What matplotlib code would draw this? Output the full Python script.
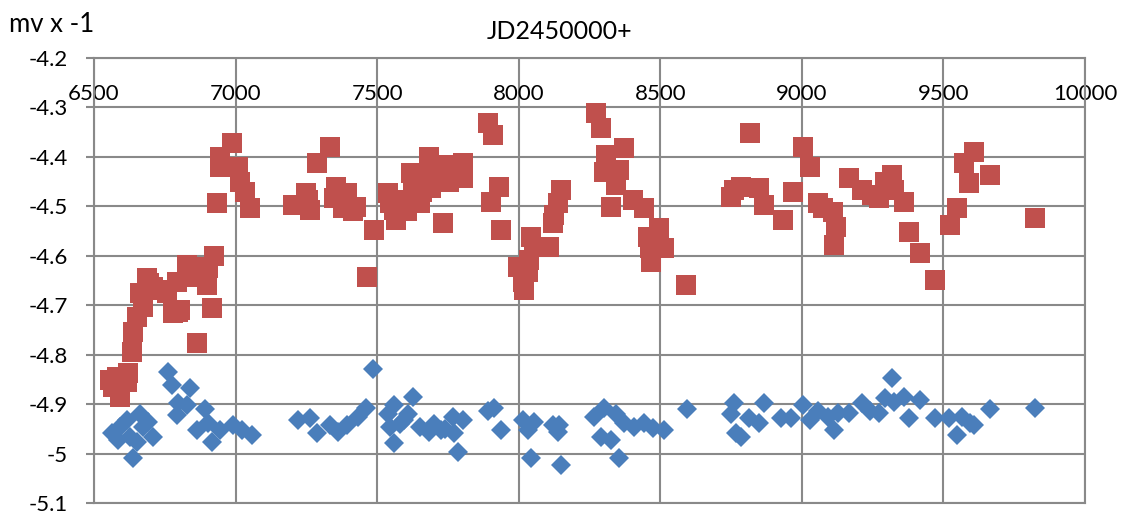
import numpy as np
import matplotlib.pyplot as plt
from matplotlib.ticker import FuncFormatter, MultipleLocator

# Light curve: visual magnitude (sign flipped) against JD - 2450000

# upper series (red squares)
red_jd = [6557, 6567, 6581, 6592, 6617, 6620, 6634, 6638, 6652, 6663,
          6673, 6688, 6695, 6709, 6730, 6758, 6780, 6794, 6797, 6804,
          6829, 6840, 6864, 6864, 6882, 6900, 6903, 6917, 6925, 6935,
          6946, 6946, 6988, 7010, 7017, 7034, 7052, 7204, 7247, 7257,
          7264, 7289, 7335, 7346, 7353, 7381, 7395, 7415, 7424, 7465,
          7490, 7537, 7547, 7558, 7565, 7583, 7605, 7615, 7618, 7625,
          7643, 7653, 7660, 7682, 7682, 7689, 7714, 7731, 7749, 7753,
          7770, 7802, 7802, 7891, 7901, 7908, 7930, 7937, 7997, 8015,
          8018, 8032, 8036, 8043, 8053, 8107, 8121, 8124, 8138, 8149,
          8273, 8290, 8301, 8308, 8326, 8344, 8354, 8372, 8404, 8443,
          8457, 8462, 8467, 8496, 8514, 8591, 8751, 8761, 8786, 8818,
          8850, 8867, 8934, 8970, 9005, 9027, 9058, 9076, 9111, 9115,
          9122, 9165, 9211, 9246, 9274, 9292, 9317, 9327, 9359, 9377,
          9416, 9469, 9522, 9547, 9571, 9589, 9607, 9663, 9823]
red_mag = [-4.852, -4.866, -4.846, -4.886, -4.856, -4.838, -4.795, -4.755, -4.724, -4.676,
           -4.704, -4.645, -4.655, -4.664, -4.670, -4.676, -4.716, -4.653, -4.714, -4.710,
           -4.619, -4.643, -4.635, -4.777, -4.623, -4.660, -4.625, -4.706, -4.600, -4.494,
           -4.400, -4.420, -4.372, -4.420, -4.451, -4.471, -4.504, -4.498, -4.473, -4.487,
           -4.508, -4.413, -4.380, -4.483, -4.461, -4.504, -4.473, -4.510, -4.502, -4.642,
           -4.548, -4.473, -4.494, -4.508, -4.528, -4.487, -4.510, -4.490, -4.433, -4.447,
           -4.453, -4.494, -4.470, -4.400, -4.420, -4.463, -4.443, -4.534, -4.417, -4.451,
           -4.440, -4.413, -4.443, -4.332, -4.491, -4.356, -4.461, -4.548, -4.623, -4.654,
           -4.670, -4.633, -4.609, -4.562, -4.583, -4.583, -4.534, -4.518, -4.494, -4.467,
           -4.312, -4.342, -4.431, -4.396, -4.502, -4.457, -4.427, -4.382, -4.487, -4.504,
           -4.562, -4.585, -4.613, -4.544, -4.585, -4.660, -4.481, -4.467, -4.461, -4.352,
           -4.463, -4.498, -4.528, -4.471, -4.380, -4.420, -4.494, -4.504, -4.512, -4.579,
           -4.542, -4.443, -4.467, -4.477, -4.483, -4.451, -4.437, -4.467, -4.491, -4.552,
           -4.595, -4.649, -4.538, -4.504, -4.413, -4.453, -4.390, -4.437, -4.524]

# lower series (blue diamonds)
blue_jd = [6564, 6585, 6592, 6617, 6627, 6638, 6652, 6663, 6673, 6691,
           6709, 6762, 6776, 6794, 6797, 6829, 6840, 6864, 6893, 6903,
           6918, 6946, 6992, 7024, 7059, 7222, 7264, 7289, 7335, 7363,
           7395, 7434, 7459, 7484, 7540, 7547, 7558, 7558, 7580, 7594,
           7610, 7625, 7653, 7682, 7700, 7724, 7740, 7767, 7770, 7784,
           7802, 7891, 7912, 7937, 8015, 8032, 8043, 8053, 8121, 8138,
           8142, 8149, 8266, 8290, 8301, 8326, 8344, 8354, 8372, 8407,
           8443, 8474, 8514, 8595, 8751, 8761, 8768, 8786, 8814, 8850,
           8867, 8927, 8963, 9005, 9027, 9058, 9094, 9115, 9129, 9165,
           9211, 9239, 9274, 9292, 9317, 9324, 9359, 9377, 9416, 9469,
           9519, 9547, 9564, 9593, 9607, 9663, 9823]
blue_mag = [-4.959, -4.973, -4.947, -4.933, -4.967, -5.008, -4.977, -4.919, -4.947, -4.937,
            -4.967, -4.836, -4.862, -4.923, -4.898, -4.902, -4.868, -4.953, -4.909, -4.939,
            -4.977, -4.953, -4.943, -4.953, -4.963, -4.933, -4.929, -4.959, -4.943, -4.957,
            -4.943, -4.927, -4.907, -4.828, -4.919, -4.947, -4.902, -4.979, -4.940, -4.933,
            -4.920, -4.886, -4.947, -4.957, -4.940, -4.953, -4.950, -4.927, -4.959, -4.996,
            -4.933, -4.913, -4.907, -4.953, -4.933, -4.953, -5.008, -4.937, -4.943, -4.957,
            -4.943, -5.024, -4.927, -4.967, -4.907, -4.973, -4.919, -5.008, -4.939, -4.947,
            -4.939, -4.949, -4.953, -4.909, -4.919, -4.898, -4.959, -4.967, -4.929, -4.939,
            -4.898, -4.929, -4.929, -4.902, -4.933, -4.913, -4.927, -4.953, -4.917, -4.917,
            -4.898, -4.913, -4.917, -4.888, -4.848, -4.896, -4.886, -4.929, -4.892, -4.929,
            -4.929, -4.963, -4.927, -4.939, -4.943, -4.909, -4.907]

RED = '#C0504D'
BLUE = '#4A7EBB'
GRID = '#898989'


def make_fig():

    plt.rcParams['font.family'] = ['Lato', 'DejaVu Sans']

    fig = plt.figure(figsize=(11.29, 5.11), dpi=100)
    ax = fig.add_axes([94/1129, 1-503/511, (1085-94)/1129, (503-58)/511])

    ax.plot(blue_jd, blue_mag, linestyle='none', marker='D', markersize=10,
            color=BLUE, markeredgewidth=0, zorder=3)
    ax.plot(red_jd, red_mag, linestyle='none', marker='s', markersize=14,
            color=RED, markeredgewidth=0, zorder=4)

    ax.set_xlim(6500, 10000)
    ax.set_ylim(-5.1, -4.2)
    ax.xaxis.set_major_locator(MultipleLocator(500))
    ax.yaxis.set_major_locator(MultipleLocator(0.1))
    ax.yaxis.set_major_formatter(FuncFormatter(lambda v, p: '{:g}'.format(round(v, 1))))

    ax.grid(True, color=GRID, linewidth=1.5, zorder=0)
    ax.set_axisbelow(True)
    for sp in ax.spines.values():
        sp.set_color(GRID)
        sp.set_linewidth(1.5)

    # x labels sit just under the top border
    ax.xaxis.tick_top()
    ax.tick_params(axis='x', length=0, pad=-33, labelsize=16)
    ax.tick_params(axis='y', length=6, width=1.5, color=GRID, pad=13, labelsize=16)

    fig.text(560/1129, 1-31/511, 'JD2450000+', ha='center', va='center', fontsize=18)
    fig.text(9/1129, 1-25/511, 'mv x -1', ha='left', va='center', fontsize=18.5)

    fig.savefig('out.png', dpi=100)
    plt.close(fig)

    return None


if (__name__ == "__main__"):

    make_fig()
